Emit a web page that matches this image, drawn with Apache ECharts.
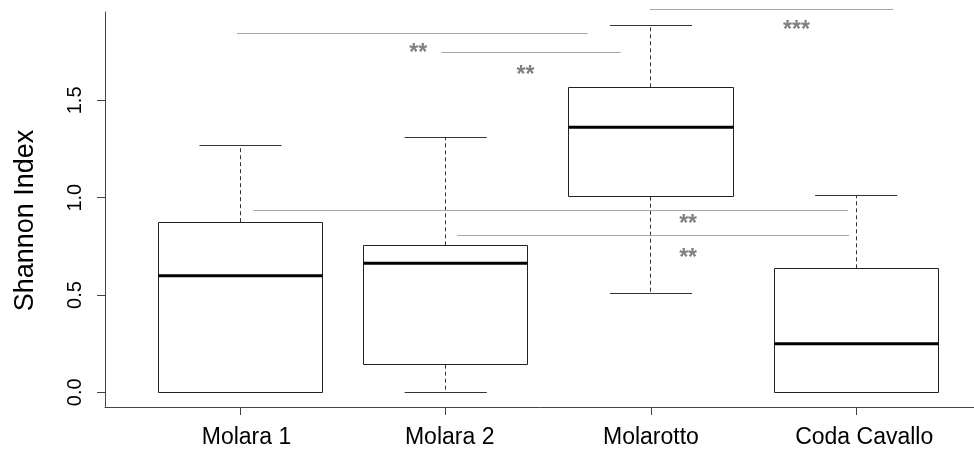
<!DOCTYPE html>
<html><head><meta charset="utf-8">
<script src="https://cdn.jsdelivr.net/npm/echarts@6/dist/echarts.min.js"></script>
<style>html,body{margin:0;padding:0;background:#fff}#c{width:974px;height:455px}</style>
</head><body><div id="c"></div>
<script>
const categories = ['Molara 1', 'Molara 2', 'Molarotto', 'Coda Cavallo'];
const whiskerLow = [0.0, 0.0, 0.507, 0.0];
const q1 = [0.0, 0.142, 1.005, 0.0];
const median = [0.599, 0.663, 1.362, 0.25];
const q3 = [0.874, 0.755, 1.567, 0.637];
const whiskerHigh = [1.266, 1.307, 1.887, 1.010];
const yTicks = [0, 0.5, 1.0, 1.5];
const xTicks = [1, 2, 3, 4];
// significance brackets (x in group units, y in index units)
const sigFrom = [0.983, 1.98, 2.995, 1.063, 2.056];
const sigTo = [2.691, 2.853, 4.18, 3.961, 3.965];
const sigY = [1.846, 1.745, 1.965, 0.932, 0.805];
const sigLabelX = [1.866, 2.389, 3.709, 3.181, 3.181];
const sigLabelY = [1.768, 1.655, 1.882, 0.885, 0.714];
const sigText = ['**', '**', '***', '**', '**'];

const FONT = '"Liberation Sans", Arial, sans-serif';
// per-label horizontal nudge (style only, pixels)
const labelNudge = [12, 8, 0, 16];
const rich = {};
labelNudge.forEach((n, i) => {
  rich['l' + i] = {fontSize: 23, color: '#000', fontFamily: FONT, padding: [0, 0, 0, n]};
});
const boxData = categories.map((c, i) => [i + 1, whiskerLow[i], q1[i], median[i], q3[i], whiskerHigh[i]]);
const sigData = sigFrom.map((f, i) => [f, sigTo[i], sigY[i], sigLabelX[i], sigLabelY[i], i]);
const crisp = v => Math.round(v - 0.5) + 0.5;

const chart = echarts.init(document.getElementById('c'), null, {renderer: 'canvas'});
chart.setOption({
  animation: false,
  backgroundColor: '#fff',
  grid: {left: 105, right: 0, top: 12, bottom: 48, containLabel: false},
  xAxis: {
    type: 'value', min: 0.34, max: 4.574,
    splitLine: {show: false},
    axisLine: {show: true, onZero: false, lineStyle: {color: '#444', width: 1}},
    axisTick: {show: true, customValues: xTicks, length: 8, lineStyle: {color: '#444', width: 1}},
    axisLabel: {show: true, customValues: xTicks,
      formatter: v => { const i = Math.round(v) - 1; return '{l' + i + '|' + categories[i] + '}'; },
      rich: rich, fontSize: 23, color: '#000', fontFamily: FONT, margin: 19}
  },
  yAxis: {
    type: 'value', min: -0.0755, max: 1.954,
    name: 'Shannon Index', nameLocation: 'middle', nameRotate: 90, nameGap: 66,
    nameTextStyle: {fontSize: 27, color: '#000', fontFamily: FONT, padding: [0, 22, 0, 0]},
    splitLine: {show: false},
    axisLine: {show: true, onZero: false, lineStyle: {color: '#444', width: 1}},
    axisTick: {show: true, customValues: yTicks, length: 8, lineStyle: {color: '#444', width: 1}},
    axisLabel: {show: true, customValues: yTicks, rotate: 90, formatter: v => v.toFixed(1),
      fontSize: 20, color: '#000', fontFamily: FONT, margin: 20}
  },
  series: [
    {
      type: 'custom',
      data: boxData,
      encode: {x: 0, y: [1, 2, 3, 4, 5]},
      renderItem: function (params, api) {
        const x = api.value(0);
        const half = api.size([0.4, 0])[0];
        const capHalf = half / 2;
        const cx = api.coord([x, 0])[0];
        const yLo = api.coord([x, api.value(1)])[1];
        const yQ1 = api.coord([x, api.value(2)])[1];
        const yMed = api.coord([x, api.value(3)])[1];
        const yQ3 = api.coord([x, api.value(4)])[1];
        const yHi = api.coord([x, api.value(5)])[1];
        const l = crisp(cx - half), r = crisp(cx + half), c = crisp(cx);
        const dash = {stroke: '#333', lineWidth: 1, lineDash: [4, 3]};
        return {
          type: 'group',
          children: [
            {type: 'line', shape: {x1: c, y1: yQ3, x2: c, y2: yHi}, style: dash},
            {type: 'line', shape: {x1: c, y1: yQ1, x2: c, y2: yLo}, style: dash},
            {type: 'line', shape: {x1: cx - capHalf, y1: crisp(yHi), x2: cx + capHalf, y2: crisp(yHi)}, style: {stroke: '#333', lineWidth: 1}},
            {type: 'line', shape: {x1: cx - capHalf, y1: crisp(yLo), x2: cx + capHalf, y2: crisp(yLo)}, style: {stroke: '#333', lineWidth: 1}},
            {type: 'rect', shape: {x: l, y: crisp(yQ3), width: r - l, height: crisp(yQ1) - crisp(yQ3)}, style: {stroke: '#222', lineWidth: 1, fill: '#fff'}},
            {type: 'line', shape: {x1: l, y1: yMed, x2: r, y2: yMed}, style: {stroke: '#000', lineWidth: 3}}
          ]
        };
      }
    },
    {
      type: 'custom',
      data: sigData,
      clip: false,
      encode: {x: [0, 1, 3], y: [2, 4]},
      renderItem: function (params, api) {
        const p1 = api.coord([api.value(0), api.value(2)]);
        const p2 = api.coord([api.value(1), api.value(2)]);
        const pl = api.coord([api.value(3), api.value(4)]);
        const idx = api.value(5);
        return {
          type: 'group',
          children: [
            {type: 'line', shape: {x1: p1[0], y1: crisp(p1[1]), x2: p2[0], y2: crisp(p2[1])}, style: {stroke: '#a6a6a6', lineWidth: 1}},
            {type: 'text', style: {text: sigText[idx], x: pl[0], y: pl[1] + 5, fill: '#808080',
              font: 'bold 23px ' + FONT, align: 'center', verticalAlign: 'middle'}}
          ]
        };
      }
    }
  ]
});
</script>
</body></html>
